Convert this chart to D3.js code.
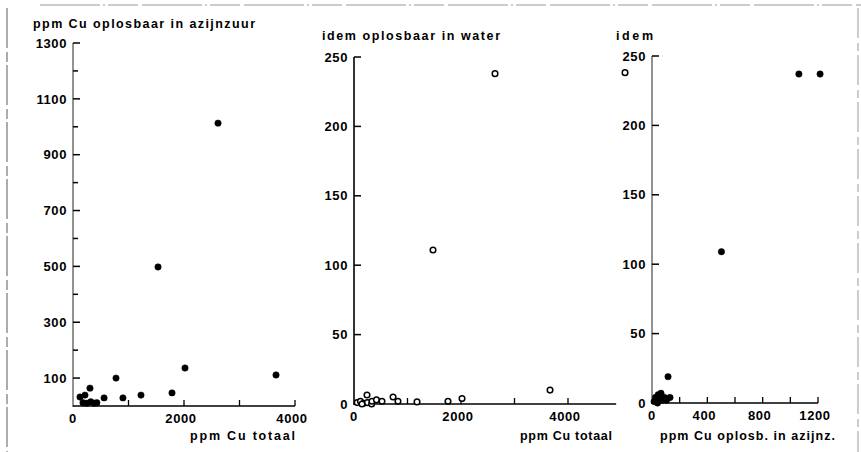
<!DOCTYPE html>
<html><head><meta charset="utf-8">
<script src="https://cdn.jsdelivr.net/npm/d3@7"></script>
<style>
body{margin:0;background:#fff;}
text{font-family:"Liberation Sans",Arial,sans-serif;font-weight:bold;fill:#000;}
</style></head>
<body><svg id="c" width="861" height="452"></svg>
<script>
// Panel 1: ppm Cu totaal vs ppm Cu oplosbaar in azijnzuur
const p1Total = [126, 216, 306, 180, 250, 320, 380, 430, 560, 775, 900, 1225, 1532, 1784, 2018, 2613, 3658];
const p1Acetic = [32, 39, 64, 12, 10, 15, 10, 12, 29, 100, 29, 39, 498, 47, 136, 1013, 111];
// Panel 2: ppm Cu totaal vs oplosbaar in water
const p2Total = [60, 120, 180, 250, 330, 150, 243, 336, 420, 523, 730, 822, 1178, 1757, 2019, 1477, 2636, 3664];
const p2Water = [1, 2, 0.5, 1, 0, 0, 6.5, 2, 3, 2, 5, 2, 1.5, 2, 4, 111, 238, 10];
// Panel 3: ppm Cu oplosb. in azijnz. vs oplosbaar in water
const p3Acetic = [15, 25, 35, 45, 55, 65, 75, 40, 90, 105, 130, 116, 502, 1062, 1215];
const p3Water = [1, 4, 2, 6, 3, 7, 2, 0, 4, 2, 4, 19, 109, 237, 237];
const p3OpenX = [-195];
const p3OpenY = [238];
// Ticks and labels
const p1YTicks = [100,200,300,400,500,600,700,800,900,1000,1100,1200,1300];
const p1YLabels = [100,300,500,700,900,1100,1300];
const p1XTicks = [1000,2000,3000,4000];
const p1XLabels = [0,2000,4000];
const p2YLabels = [0,50,100,150,200,250];
const p2XTicks = [1000,2000,3000,4000];
const p2XLabels = [0,2000,4000];
const p3YLabels = [0,50,100,150,200,250];
const p3XTicks = [200,400,600,800,1000,1200];
const p3XLabels = [0,400,800,1200];
const titles = ["ppm Cu oplosbaar in azijnzuur","idem oplosbaar in water","idem"];
const xTitles = ["ppm Cu totaal","ppm Cu totaal","ppm Cu oplosb. in azijnz."];

const svg = d3.select("#c");

// scanned frame
svg.append("line").attr("x1",40).attr("x2",861).attr("y1",5).attr("y2",5).attr("stroke","#999").attr("stroke-width",1.2).attr("stroke-dasharray","60,3,2,3,30,4");
svg.append("line").attr("x1",7).attr("x2",7).attr("y1",8).attr("y2",452).attr("stroke","#777").attr("stroke-width",1.2).attr("stroke-dasharray","40,4,10,3");
svg.append("line").attr("x1",858).attr("x2",858).attr("y1",8).attr("y2",452).attr("stroke","#999").attr("stroke-width",1).attr("stroke-dasharray","30,5,8,4");

function panel(cfg){
  const g = svg.append("g");
  const x = d3.scaleLinear().domain(cfg.xDomain).range(cfg.xRange);
  const y = d3.scaleLinear().domain(cfg.yDomain).range(cfg.yRange);
  const x0 = x(0), y0 = y(0);
  g.append("line").attr("x1",x0).attr("x2",x0).attr("y1",y(cfg.yDomain[1])).attr("y2",y0+1)
    .attr("stroke",cfg.axisColor).attr("stroke-width",1.6);
  g.append("line").attr("x1",x0).attr("x2",x(cfg.xEnd)).attr("y1",y0).attr("y2",y0)
    .attr("stroke","#000").attr("stroke-width",1.6);
  cfg.yTicks.forEach(v=>{
    g.append("line").attr("x1",x0).attr("x2",x0+(cfg.yLabels.includes(v)?7:5)).attr("y1",y(v)).attr("y2",y(v))
      .attr("stroke","#000").attr("stroke-width",1.5);
  });
  cfg.yLabels.forEach(v=>{
    g.append("text").attr("x",x0-6).attr("y",y(v)).attr("dy","0.36em").attr("text-anchor","end")
      .style("font-size","13px").style("letter-spacing","0.6px").text(v);
  });
  cfg.xTicks.forEach(v=>{
    g.append("line").attr("x1",x(v)).attr("x2",x(v)).attr("y1",y0).attr("y2",y0-6)
      .attr("stroke","#000").attr("stroke-width",1.3);
  });
  cfg.xLabels.forEach(v=>{
    g.append("text").attr("x",x(v)+(v===0?0:-3)).attr("y",y0+17).attr("text-anchor","middle")
      .style("font-size","13px").style("letter-spacing","0.6px").text(v);
  });
  g.append("text").attr("x",cfg.titleX).attr("y",cfg.titleY).attr("textLength",cfg.titleW).attr("lengthAdjust","spacing")
    .style("font-size","12.5px").text(cfg.title);
  g.append("text").attr("x",cfg.xtX).attr("y",440).attr("textLength",cfg.xtW).attr("lengthAdjust","spacing")
    .style("font-size","12.5px").text(cfg.xTitle);
  const pts = cfg.xs.map((v,i)=>[v,cfg.ys[i]]);
  g.selectAll("circle.p").data(pts).enter().append("circle").attr("class","p")
    .attr("cx",d=>x(d[0])).attr("cy",d=>y(d[1])).attr("r",cfg.open?2.8:3.2)
    .attr("fill",cfg.open?"#fff":"#000").attr("stroke","#000").attr("stroke-width",cfg.open?1.5:0.5);
  if(cfg.extraX){
    const e = cfg.extraX.map((v,i)=>[v,cfg.extraY[i]]);
    g.selectAll("circle.e").data(e).enter().append("circle").attr("class","e")
      .attr("cx",d=>x(d[0])).attr("cy",d=>y(d[1])).attr("r",2.8)
      .attr("fill","#fff").attr("stroke","#000").attr("stroke-width",1.5);
  }
}

panel({xDomain:[0,4000],xRange:[73,295],yDomain:[0,1300],yRange:[406,43],xEnd:4000,
  yTicks:p1YTicks,yLabels:p1YLabels,xTicks:p1XTicks,xLabels:p1XLabels,axisColor:"#777",
  title:titles[0],titleX:33,titleY:28,titleW:222,xTitle:xTitles[0],xtX:190,xtW:105,
  xs:p1Total,ys:p1Acetic,open:false});
panel({xDomain:[0,4000],xRange:[354,568],yDomain:[0,250],yRange:[404,57],xEnd:4900,
  yTicks:p2YLabels,yLabels:p2YLabels,xTicks:p2XTicks,xLabels:p2XLabels,axisColor:"#000",
  title:titles[1],titleX:322,titleY:40,titleW:178,xTitle:xTitles[1],xtX:520,xtW:92,
  xs:p2Total,ys:p2Water,open:true});
panel({xDomain:[0,1200],xRange:[652,818],yDomain:[0,250],yRange:[403,56],xEnd:1200,
  yTicks:p3YLabels,yLabels:p3YLabels,xTicks:p3XTicks,xLabels:p3XLabels,axisColor:"#777",
  title:titles[2],titleX:616,titleY:40,titleW:37,xTitle:xTitles[2],xtX:660,xtW:175,
  xs:p3Acetic,ys:p3Water,open:false,extraX:p3OpenX,extraY:p3OpenY});
</script></body></html>
